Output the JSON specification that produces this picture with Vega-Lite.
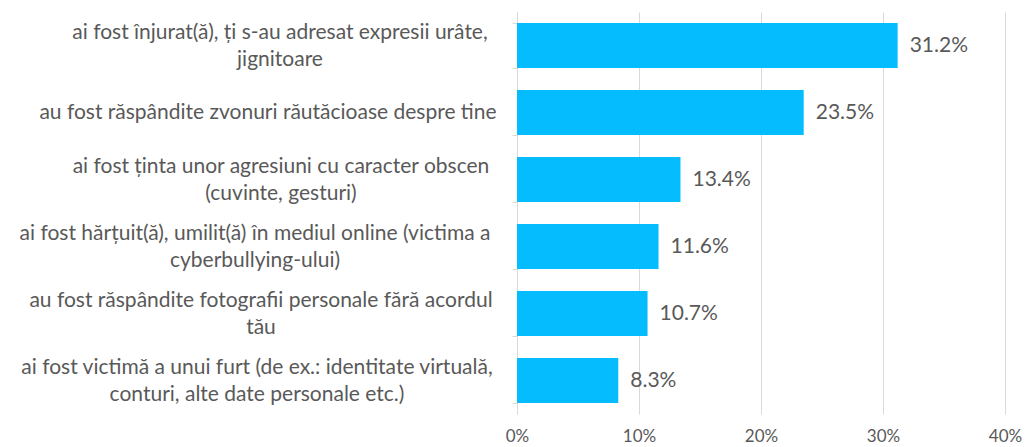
{
  "$schema": "https://vega.github.io/schema/vega-lite/v6.json",
  "width": 488,
  "height": 402,
  "autosize": {"type": "none"},
  "padding": {"left": 517, "top": 12, "right": 22, "bottom": 33},
  "config": {"view": {"stroke": null}, "font": "Lato", "background": "white"},
  "data": {
    "values": [
      {"item": "ai fost înjurat(ă), ți s-au adresat expresii urâte,|jignitoare", "pct": 0.312},
      {"item": "au fost răspândite zvonuri răutăcioase despre tine", "pct": 0.235},
      {"item": "ai fost ținta unor agresiuni cu caracter obscen|(cuvinte, gesturi)", "pct": 0.134},
      {"item": "ai fost hărțuit(ă), umilit(ă) în mediul online (victima a|cyberbullying-ului)", "pct": 0.116},
      {"item": "au fost răspândite fotografii personale fără acordul|tău", "pct": 0.107},
      {"item": "ai fost victimă a unui furt (de ex.: identitate virtuală,|conturi, alte date personale etc.)", "pct": 0.083}
    ]
  },
  "encoding": {
    "y": {
      "field": "item",
      "type": "nominal",
      "sort": null,
      "scale": {"paddingInner": 0.33, "paddingOuter": 0.165},
      "axis": {
        "title": null,
        "labels": false,
        "domainColor": "#d9d9d9",
        "tickColor": "#d9d9d9",
        "tickSize": 5,
        "tickBand": "extent",
        "grid": false
      }
    },
    "x": {
      "field": "pct",
      "type": "quantitative",
      "scale": {"domain": [0, 0.4]},
      "axis": {
        "title": null,
        "values": [0, 0.1, 0.2, 0.3, 0.4],
        "format": ".0%",
        "domain": false,
        "ticks": false,
        "grid": true,
        "gridColor": "#d9d9d9",
        "labelFontSize": 17,
        "labelColor": "#595959",
        "labelPadding": 14,
        "labelFlush": false
      }
    }
  },
  "layer": [
    {"mark": {"type": "bar", "color": "#05BDFE"}},
    {
      "mark": {"type": "text", "align": "left", "baseline": "middle", "dx": 12, "fontSize": 21, "color": "#595959"},
      "encoding": {"text": {"field": "pct", "type": "quantitative", "format": ".1%"}}
    },
    {
      "mark": {
        "type": "text",
        "align": "center",
        "baseline": "middle",
        "fontSize": 21,
        "lineHeight": 27,
        "color": "#595959",
        "text": {"expr": "split(datum.item, '|')"},
        "dx": {"expr": "indexof(datum.item, 'înjurat') >= 0 ? -237 : indexof(datum.item, 'zvonuri') >= 0 ? -249 : indexof(datum.item, 'obscen') >= 0 ? -236 : indexof(datum.item, 'cyberbullying') >= 0 ? -262 : indexof(datum.item, 'fotografii') >= 0 ? -256 : -260"},
        "dy": {"expr": "indexof(datum.item, '|') >= 0 ? -13 : 0"}
      },
      "encoding": {"x": {"datum": 0, "type": "quantitative"}}
    }
  ]
}
